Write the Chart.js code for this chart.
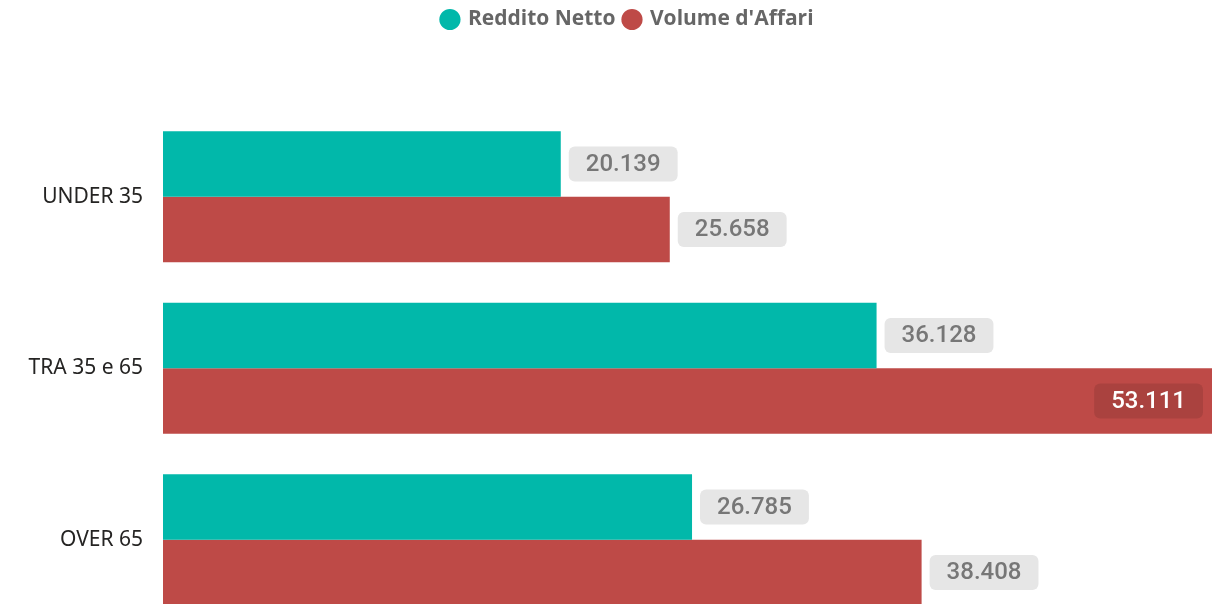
<!DOCTYPE html>
<html>
<head>
<meta charset="utf-8">
<script src="https://cdn.jsdelivr.net/npm/chart.js@4/dist/chart.umd.min.js"></script>
<style>
  html, body { margin: 0; padding: 0; background: #fff; overflow: hidden; }
  #wrap { width: 1228px; height: 604px; overflow: hidden; }
  #wrap canvas { display: block; }
</style>
</head>
<body>
<div id="wrap"><canvas id="chart" width="1228" height="650" style="width:1228px;height:650px"></canvas></div>
<script>
const categories = ['UNDER 35', 'TRA 35 e 65', 'OVER 65'];
const redditoNetto = [20139, 36128, 26785];
const volumeAffari = [25658, 53111, 38408];
const seriesNames = ['Reddito Netto', "Volume d'Affari"];

const fmt = v => v.toLocaleString('it-IT');

// rounded boxes with the value, outside the bar or inside when there is no room
const valueBoxes = {
    id: 'valueBoxes',
    afterDatasetsDraw(chart) {
        const ctx = chart.ctx;
        const area = chart.chartArea;
        ctx.save();
        ctx.font = '500 24px Roboto';
        ctx.textBaseline = 'middle';
        ctx.textAlign = 'center';
        chart.data.datasets.forEach((ds, di) => {
            chart.getDatasetMeta(di).data.forEach((bar, i) => {
                const txt = fmt(ds.data[i]);
                const w = ctx.measureText(txt).width + 34;
                const h = 35;
                let x = bar.x + 8;
                let inside = false;
                if (x + w > area.right) { x = bar.x - 9 - w; inside = true; }
                const y = bar.y - h / 2;
                ctx.fillStyle = inside ? 'rgba(0,0,0,0.1)' : '#e6e6e6';
                ctx.beginPath();
                ctx.roundRect(x, y, w, h, 6);
                ctx.fill();
                ctx.fillStyle = inside ? '#ffffff' : '#777777';
                ctx.fillText(txt, x + w / 2, bar.y + 1);
            });
        });
        ctx.restore();
    }
};

// legend block takes the whole band above the bars, shifted a bit to the right
const legendBand = {
    id: 'legendBand',
    beforeInit(chart) {
        const fit = chart.legend.fit;
        chart.legend.fit = function () {
            fit.call(this);
            this.height = 111;
        };
    },
    afterLayout(chart) {
        chart.legend.left += 22;
        chart.legend.right += 22;
    }
};

new Chart(document.getElementById('chart'), {
    type: 'bar',
    data: {
        labels: categories,
        datasets: [
            { label: seriesNames[0], data: redditoNetto, backgroundColor: '#01b8aa' },
            { label: seriesNames[1], data: volumeAffari, backgroundColor: '#be4a47' }
        ]
    },
    options: {
        indexAxis: 'y',
        responsive: false,
        animation: false,
        categoryPercentage: 0.764,
        barPercentage: 1,
        layout: { padding: { left: 0, right: 16, top: 0, bottom: 1 } },
        scales: {
            x: { display: false, min: 0, max: 53111 },
            y: {
                grid: { display: false },
                border: { display: false },
                ticks: { color: '#252423', font: { family: 'Noto Sans', size: 21 }, padding: 12 },
                afterFit(s) { s.width = 163; }
            }
        },
        plugins: {
            legend: {
                position: 'top',
                labels: {
                    usePointStyle: true,
                    pointStyle: 'circle',
                    boxWidth: 15,
                    boxHeight: 15,
                    padding: 9,
                    color: '#666666',
                    font: { family: 'Open Sans', size: 21, weight: 'bold' }
                }
            },
            tooltip: { enabled: false }
        }
    },
    plugins: [legendBand, valueBoxes]
});
</script>
</body>
</html>
